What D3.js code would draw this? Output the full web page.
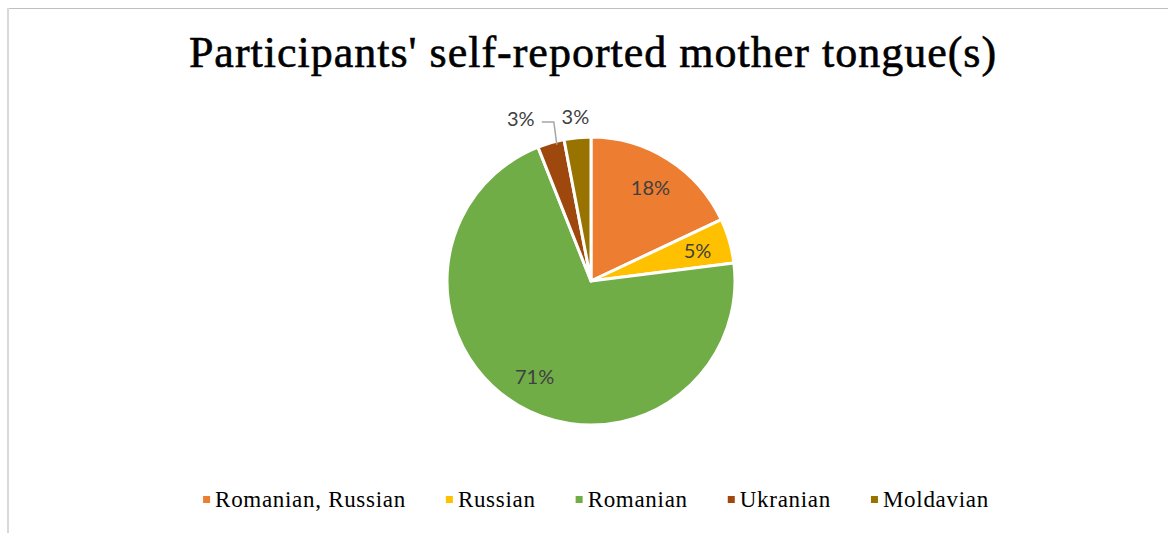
<!DOCTYPE html>
<html>
<head>
<meta charset="utf-8">
<script src="https://cdn.jsdelivr.net/npm/d3@7"></script>
<style>
  html, body { margin: 0; padding: 0; background: #ffffff; }
  svg { display: block; }
</style>
</head>
<body>
<svg id="chart" width="1168" height="533"></svg>
<script>
// Mother tongue shares (percent of participants)
const categories = ["Romanian, Russian", "Russian", "Romanian", "Ukranian", "Moldavian"];
const shares = [18, 5, 71, 3, 3];
const colors = ["#ED7D31", "#FFC000", "#70AD47", "#9E480E", "#997300"];
const titleText = "Participants' self-reported mother tongue(s)";

const W = 1168, H = 533;
const svg = d3.select("#chart");
const serif = "'Liberation Serif', 'DejaVu Serif', serif";

// chart frame
svg.append("line").attr("x1", 8).attr("x2", W).attr("y1", 8.5).attr("y2", 8.5)
  .attr("stroke", "#BFBFBF").attr("stroke-width", 1);
svg.append("line").attr("x1", 8).attr("x2", 8).attr("y1", 8).attr("y2", H)
  .attr("stroke", "#D9D9D9").attr("stroke-width", 2);

// title
svg.append("text")
  .attr("x", 593).attr("y", 67)
  .attr("text-anchor", "middle")
  .attr("font-family", serif)
  .attr("font-size", 44)
  .attr("letter-spacing", 1)
  .attr("fill", "#000")
  .attr("stroke", "#000")
  .attr("stroke-width", 0.6)
  .text(titleText);

// pie
const cx = 591, cy = 281, R = 144;
const data = categories.map((c, i) => ({ name: c, value: shares[i], color: colors[i] }));
const pie = d3.pie().value(d => d.value).sort(null);
const arcs = pie(data);
const arc = d3.arc().innerRadius(0).outerRadius(R);

const g = svg.append("g").attr("transform", `translate(${cx},${cy})`);
g.selectAll("path.slice").data(arcs).join("path")
  .attr("class", "slice")
  .attr("d", arc)
  .attr("fill", d => d.data.color)
  .attr("stroke", "#fff")
  .attr("stroke-width", 3)
  .attr("stroke-linejoin", "round");

// percentage labels
const fmt = d => d.data.value + "%";
const labelFont = "Lato, 'Open Sans', sans-serif";
const inside = d3.arc().innerRadius(R * 0.77).outerRadius(R * 0.77);
const outside = d3.arc().innerRadius(R * 1.15).outerRadius(R * 1.15);

arcs.forEach((d, i) => {
  const small = d.data.value < 4;
  let [x, y] = small ? outside.centroid(d) : inside.centroid(d);
  const t = g.append("text")
    .attr("text-anchor", "middle")
    .attr("dominant-baseline", "central")
    .attr("font-family", labelFont)
    .attr("font-size", 20)
    .attr("fill", "#404040")
    .text(fmt(d));
  if (small && i === 3) {
    // crowded label: shift it left and up, connected by a leader line
    x -= 24; y -= 4;
    const edge = d3.arc().innerRadius(R).outerRadius(R).centroid(d);
    const ex = edge[0] + 6, ey = edge[1] + 2;
    const lx = x + 21;
    g.append("polyline")
      .attr("points", `${lx},${y + 4} ${ex - 3},${y + 4} ${ex},${ey}`)
      .attr("fill", "none")
      .attr("stroke", "#A6A6A6")
      .attr("stroke-width", 1.5);
  }
  t.attr("x", x).attr("y", y);
});

// legend
const legendY = 499;
const lg = svg.append("g");
const items = lg.selectAll("g.item").data(data).join("g").attr("class", "item");
items.append("rect").attr("width", 7).attr("height", 7).attr("y", legendY - 3)
  .attr("fill", d => d.color);
items.append("text")
  .attr("x", 12).attr("y", legendY)
  .attr("dominant-baseline", "central")
  .attr("font-family", serif)
  .attr("font-size", 23)
  .attr("letter-spacing", 0.7)
  .attr("fill", "#000")
  .text(d => d.name);
let xpos = 0;
const gap = 40;
items.each(function () {
  const w = this.getBBox().width;
  d3.select(this).attr("transform", `translate(${xpos},0)`);
  xpos += w + gap;
});
const total = xpos - gap;
lg.attr("transform", `translate(${596 - total / 2},0)`);
</script>
</body>
</html>
